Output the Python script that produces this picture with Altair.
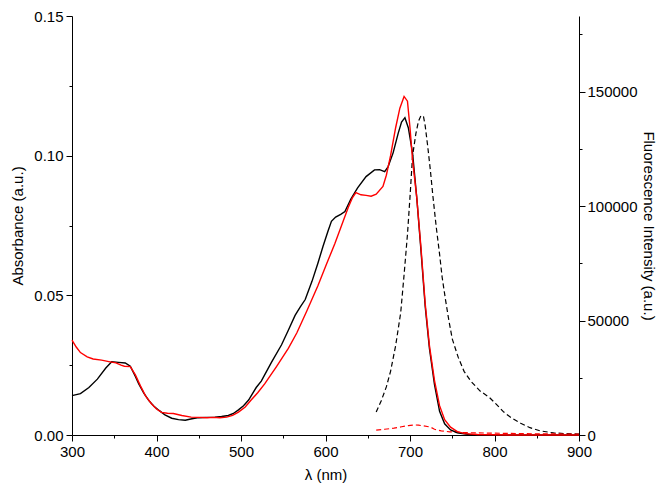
import altair as alt
import pandas as pd

# Absorbance, sample A (black solid)
abs_black_nm = [300, 310, 320, 330, 340, 347, 355, 363, 369, 375, 379, 385, 391, 397, 403, 410, 418, 426, 434,
                442, 450, 460, 469, 477, 485, 491, 497, 503, 509, 518, 524, 536, 548, 556, 564, 570, 576, 584,
                591, 597, 603, 607, 612, 618, 623, 630, 638, 648, 658, 664, 670, 674, 680, 686, 690, 694, 698,
                703, 708, 713, 718, 723, 729, 735, 741, 748, 756, 770, 800, 850, 900]
abs_black_val = [0.0141, 0.0148, 0.0170, 0.0200, 0.0240, 0.0262, 0.0260, 0.0258, 0.0246, 0.0210, 0.0183, 0.0150,
                 0.0123, 0.0103, 0.0088, 0.0072, 0.0060, 0.0055, 0.0053, 0.0058, 0.0062, 0.0063, 0.0064, 0.0066,
                 0.0070, 0.0077, 0.0090, 0.0105, 0.0125, 0.0170, 0.0193, 0.0260, 0.0323, 0.0375, 0.0428, 0.0458,
                 0.0485, 0.0550, 0.0615, 0.0675, 0.0730, 0.0765, 0.0780, 0.0790, 0.0800, 0.0845, 0.0885, 0.0925,
                 0.0949, 0.0950, 0.0943, 0.0960, 0.1010, 0.1080, 0.1120, 0.1136, 0.1100, 0.1010, 0.0850, 0.0660,
                 0.0460, 0.0310, 0.0180, 0.0085, 0.0040, 0.0018, 0.0008, 0.0002, 0.0, 0.0, 0.0]

# Absorbance, sample B (red solid)
abs_red_nm = [300, 305, 310, 318, 325, 335, 345, 352, 358, 362, 369, 375, 381, 387, 394, 400, 406, 413, 420,
              430, 441, 450, 460, 467, 475, 483, 490, 497, 505, 512, 520, 528, 542, 556, 566, 578, 591, 601,
              611, 619, 627, 632, 636, 642, 648, 654, 660, 668, 672, 677, 683, 688, 693, 697, 700, 703, 708,
              713, 718, 723, 729, 735, 741, 748, 756, 765, 780, 820, 860, 900]
abs_red_val = [0.0340, 0.0315, 0.0295, 0.0280, 0.0272, 0.0268, 0.0262, 0.0258, 0.0250, 0.0246, 0.0245, 0.0215,
               0.0176, 0.0140, 0.0112, 0.0093, 0.0081, 0.0078, 0.0077, 0.0070, 0.0064, 0.0063, 0.0062, 0.0063,
               0.0062, 0.0064, 0.0070, 0.0082, 0.0100, 0.0125, 0.0152, 0.0183, 0.0245, 0.0310, 0.0365, 0.0445,
               0.0534, 0.0610, 0.0685, 0.0750, 0.0815, 0.0850, 0.0868, 0.0860, 0.0858, 0.0855, 0.0862, 0.0890,
               0.0930, 0.1000, 0.1100, 0.1170, 0.1212, 0.1195, 0.1100, 0.0985, 0.0850, 0.0670, 0.0470, 0.0320,
               0.0195, 0.0105, 0.0055, 0.0028, 0.0012, 0.0005, 0.0002, 0.0, 0.0, 0.0]

# Fluorescence, sample A (black dashed)
fl_black_nm = [660, 666, 672, 677, 683, 689, 693, 697, 700, 703, 707, 710, 713, 716, 718, 721, 724, 727, 731,
               735, 738, 742, 746, 750, 757, 764, 772, 783, 794, 802, 811, 820, 831, 842, 854, 870, 885, 900]
fl_black_val = [10000, 15000, 21000, 27800, 39000, 53400, 70000, 87600, 104000, 121800, 131700, 137000, 139500,
                139000, 135000, 126000, 116000, 104700, 91000, 79000, 69000, 59100, 50000, 42000, 34000, 27800,
                23500, 19200, 16400, 13500, 10000, 7500, 5100, 3200, 1800, 900, 600, 400]

# Fluorescence, sample B (red dashed)
fl_red_nm = [660, 670, 681, 690, 698, 705, 710, 716, 724, 729, 737, 747, 760, 780, 800, 830, 860, 900]
fl_red_val = [2100, 2500, 3000, 3600, 4100, 4400, 4300, 4000, 3500, 2500, 1800, 1400, 1100, 900, 800, 600, 500, 400]

x_ticks = [300, 350, 400, 450, 500, 550, 600, 650, 700, 750, 800, 850, 900]
abs_ticks = [0.0, 0.025, 0.05, 0.075, 0.10, 0.125, 0.15]
fl_ticks = [0, 25000, 50000, 75000, 100000, 125000, 150000, 175000]

abs_df = pd.concat([
    pd.DataFrame({"nm": abs_black_nm, "val": abs_black_val, "s": "A"}),
    pd.DataFrame({"nm": abs_red_nm, "val": abs_red_val, "s": "B"}),
])
fl_df = pd.concat([
    pd.DataFrame({"nm": fl_black_nm, "val": fl_black_val, "s": "A"}),
    pd.DataFrame({"nm": fl_red_nm, "val": fl_red_val, "s": "B"}),
])

FONT = "Liberation Sans"
color = alt.Color("s:N", scale=alt.Scale(domain=["A", "B"], range=["#000000", "#ff0000"]), legend=None)

x_axis = alt.Axis(
    values=x_ticks, title="λ (nm)", format="d", labelFlush=False, labelOverlap=False,
    labelExpr="datum.value % 100 === 0 ? datum.label : ''",
    tickSize={"condition": {"test": "datum.value % 100 === 0", "value": 6}, "value": 3},
    labelPadding=3, titlePadding=8,
)
abs_axis = alt.Axis(
    values=abs_ticks, title="Absorbance (a.u.)", format=".2f", orient="left",
    labelFlush=False, labelOverlap=False,
    labelExpr="abs(datum.value*20 - round(datum.value*20)) < 1e-6 ? datum.label : ''",
    tickSize={"condition": {"test": "abs(datum.value*20 - round(datum.value*20)) < 1e-6", "value": 6}, "value": 3},
    labelPadding=3, titlePadding=8,
)
fl_axis = alt.Axis(
    values=fl_ticks, title="Fluorescence Intensity (a.u.)", format="d", orient="right",
    labelFlush=False, labelOverlap=False,
    labelExpr="datum.value % 50000 === 0 ? datum.label : ''",
    tickSize={"condition": {"test": "datum.value % 50000 === 0", "value": 6}, "value": 3},
    labelPadding=2, titlePadding=3,
)

xscale = alt.Scale(domain=[300, 900], nice=False, zero=False)

fl_chart = alt.Chart(fl_df).mark_line(strokeWidth=1.2, strokeDash=[5, 3]).encode(
    x=alt.X("nm:Q", scale=xscale, axis=x_axis),
    y=alt.Y("val:Q", scale=alt.Scale(domain=[0, 183000], nice=False), axis=fl_axis),
    color=color,
    detail="s:N",
)

abs_chart = alt.Chart(abs_df).mark_line(strokeWidth=1.4).encode(
    x=alt.X("nm:Q", scale=xscale, axis=x_axis),
    y=alt.Y("val:Q", scale=alt.Scale(domain=[0, 0.15], nice=False), axis=abs_axis),
    color=color,
    detail="s:N",
)

chart = alt.layer(fl_chart, abs_chart).resolve_scale(y="independent").properties(
    width=507, height=419,
    autosize=alt.AutoSizeParams(type="none"),
    padding={"left": 64, "top": 8, "right": 79, "bottom": 50},
).configure_view(stroke=None).configure_axis(
    grid=False, domainColor="#000000", tickColor="#000000", labelColor="#000000", titleColor="#000000",
    labelFont=FONT, titleFont=FONT, labelFontSize=15, titleFontSize=15, titleFontWeight="normal",
    domainWidth=1, tickWidth=1,
)

chart.save("out.html", embed_options={"renderer": "svg", "actions": False})
